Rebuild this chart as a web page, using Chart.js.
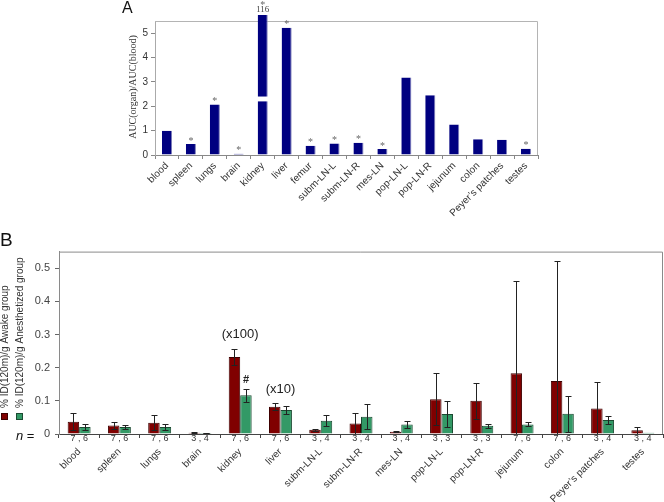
<!DOCTYPE html>
<html>
<head>
<meta charset="utf-8">
<script src="https://cdn.jsdelivr.net/npm/chart.js@4.4.0/dist/chart.umd.min.js"></script>
<style>
  body { margin: 0; background: #fff; }
  #wrap { position: relative; width: 664px; height: 502px; overflow: hidden; background: #fff; }
  canvas { position: absolute; left: 0; }
  #chartA { top: 0; }
  #chartB { top: 240px; }
  .panel { position: absolute; font-family: Arial, "Liberation Sans", sans-serif; color: #111; }
</style>
</head>
<body>
<div id="wrap">
  <canvas id="chartA" width="664" height="235"></canvas>
  <canvas id="chartB" width="664" height="262"></canvas>
  <div class="panel" style="left:122px; top:-1px; font-size:16px;">A</div>
  <div class="panel" style="left:0px; top:229px; font-size:19px;">B</div>
</div>
<script>
// Panel A: AUC(organ)/AUC(blood)
const organsA = ["blood", "spleen", "lungs", "brain", "kidney", "liver", "femur", "subm-LN-L",
  "subm-LN-R", "mes-LN", "pop-LN-L", "pop-LN-R", "jejunum", "colon", "Peyer\u2019s patches", "testes"];
const aucRatio = [1.0, 0.45, 2.07, 0.05, 116, 5.22, 0.38, 0.47, 0.5, 0.25, 3.18, 2.45, 1.25, 0.65, 0.63, 0.26];
const aucStar = [false, true, true, true, true, true, true, true, true, true, false, false, false, false, false, true];
const aucTicks = [0, 1, 2, 3, 4, 5];
const kidneyShownTop = 5.75;      // off-scale bar is drawn up to here
const kidneyBreak = [2.2, 2.4];   // white gap in the off-scale bar

// Panel B: %ID(120m)/g, awake vs anesthetized
const organsB = ["blood", "spleen", "lungs", "brain", "kidney", "liver", "subm-LN-L", "subm-LN-R",
  "mes-LN", "pop-LN-L", "pop-LN-R", "jejunum", "colon", "Peyer\u2019s patches", "testes"];
const awakeMean = [0.037, 0.026, 0.034, 0.004, 0.232, 0.082, 0.013, 0.032, 0.007, 0.105, 0.100, 0.183, 0.160, 0.077, 0.011];
const awakeErr  = [0.025, 0.010, 0.023, 0.001, 0.025, 0.011, 0.003, 0.031, 0.002, 0.078, 0.055, 0.277, 0.363, 0.081, 0.010];
const anesMean  = [0.021, 0.021, 0.021, 0.003, 0.117, 0.072, 0.040, 0.052, 0.029, 0.060, 0.025, 0.029, 0.061, 0.042, 0.004];
const anesErr   = [0.009, 0.007, 0.010, 0.001, 0.020, 0.012, 0.017, 0.038, 0.011, 0.038, 0.006, 0.006, 0.055, 0.013, 0];
const groupN = ["7 , 6", "7 , 6", "7 , 6", "3 , 4", "7 , 6", "7 , 6", "3 , 4", "3 , 4", "3 , 4",
  "3 , 3", "3 , 3", "7 , 6", "7 , 6", "3 , 4", "3 , 4"];
const scaleNote = ["", "", "", "", "(x100)", "(x10)", "", "", "", "", "", "", "", "", ""];
const anesMark  = ["", "", "", "", "#", "", "", "", "", "", "", "", "", "", ""];
const uptakeTicks = [0, 0.1, 0.2, 0.3, 0.4, 0.5];
const seriesB = ["% ID(120m)/g Awake group", "% ID(120m)/g Anesthetized group"];

const RED = "#800000", RED_EDGE = "#3d0000";
const GREEN = "#339966", GREEN_EDGE = "#1b4a31";
const SANS = 'Arial, "Liberation Sans", sans-serif';

function drawRotated(ctx, text, x, y, font, color) {
  ctx.save();
  ctx.translate(x, y);
  ctx.rotate(-Math.PI / 2);
  ctx.font = font;
  ctx.fillStyle = color;
  ctx.textAlign = "center";
  ctx.textBaseline = "middle";
  ctx.fillText(text, 0, 0);
  ctx.restore();
}

function boxOutline(chart, color) {
  const { ctx, chartArea: a } = chart;
  ctx.save();
  ctx.strokeStyle = color;
  ctx.lineWidth = 1;
  ctx.beginPath();
  ctx.moveTo(a.left, a.top + 0.5);
  ctx.lineTo(a.right - 0.5, a.top + 0.5);
  ctx.lineTo(a.right - 0.5, a.bottom);
  ctx.stroke();
  ctx.restore();
}

// ---- Panel A ----
const panelAExtras = {
  id: "panelAExtras",
  beforeDatasetsDraw(chart) {
    boxOutline(chart, "#b4b4b4");
  },
  afterDatasetsDraw(chart) {
    const { ctx, scales: { y } } = chart;
    const meta = chart.getDatasetMeta(0);
    ctx.save();
    ctx.textAlign = "center";
    ctx.textBaseline = "middle";
    meta.data.forEach((bar, i) => {
      let starY = bar.y - 3;
      if (aucRatio[i] > kidneyShownTop) {
        const yHi = y.getPixelForValue(kidneyBreak[1]);
        const yLo = y.getPixelForValue(kidneyBreak[0]);
        ctx.fillStyle = "#fff";
        ctx.fillRect(bar.x - bar.width / 2 - 2, yHi, bar.width + 4, yLo - yHi);
        ctx.fillStyle = "#444";
        ctx.font = '9px "Liberation Serif", serif';
        ctx.fillText(String(aucRatio[i]), bar.x, bar.y - 5);
        starY = bar.y - 10;
      }
      if (aucStar[i]) {
        ctx.fillStyle = "#666";
        ctx.font = '10px "Liberation Serif", serif';
        ctx.fillText("*", bar.x, starY);
      }
    });
    ctx.restore();
  },
  afterDraw(chart) {
    drawRotated(chart.ctx, "AUC(organ)/AUC(blood)", 133, 87, '10px "Liberation Serif", serif', "#333");
  }
};

new Chart(document.getElementById("chartA"), {
  type: "bar",
  data: {
    labels: organsA,
    datasets: [{
      data: aucRatio.map(v => Math.min(v, kidneyShownTop)),
      backgroundColor: "#000080",
      borderColor: "#7a7ab8",
      borderWidth: { left: 0, right: 1, top: 0, bottom: 0 },
      categoryPercentage: 1,
      barPercentage: 0.42,
      clip: false
    }]
  },
  options: {
    responsive: false,
    animation: false,
    layout: { padding: { left: 120, right: 126, top: 21, bottom: 0 } },
    plugins: { legend: { display: false }, tooltip: { enabled: false } },
    scales: {
      x: {
        grid: { display: true, drawOnChartArea: false, tickLength: 4, color: "#888" },
        border: { color: "#888" },
        ticks: { autoSkip: false, minRotation: 45, maxRotation: 45, padding: 1,
          color: "#333", font: { family: SANS, size: 10 } },
        afterFit: s => { s.height = 80; }
      },
      y: {
        min: 0, max: 5.5,
        afterBuildTicks: s => { s.ticks = aucTicks.map(v => ({ value: v })); },
        grid: { display: true, drawOnChartArea: false, tickLength: 4, color: "#888" },
        border: { color: "#aaa" },
        ticks: { padding: 3, color: "#333", font: { family: SANS, size: 10 } },
        afterFit: s => { s.width = 35; }
      }
    }
  },
  plugins: [panelAExtras]
});

// ---- Panel B ----
const panelBExtras = {
  id: "panelBExtras",
  beforeDatasetsDraw(chart) {
    boxOutline(chart, "#8a8a8a");
  },
  afterDatasetsDraw(chart) {
    const { ctx, chartArea: a, scales: { x, y } } = chart;
    const errs = [awakeErr, anesErr];
    const means = [awakeMean, anesMean];
    ctx.save();
    ctx.beginPath();
    ctx.rect(a.left, 0, a.right - a.left, a.bottom);
    ctx.clip();
    ctx.strokeStyle = "#222";
    ctx.lineWidth = 1;
    [0, 1].forEach(d => {
      chart.getDatasetMeta(d).data.forEach((bar, i) => {
        const e = errs[d][i];
        if (!e) return;
        const cx = Math.round(bar.x) + 0.5;
        const top = Math.round(y.getPixelForValue(means[d][i] + e)) + 0.5;
        const bot = Math.round(y.getPixelForValue(means[d][i] - e)) + 0.5;
        ctx.beginPath();
        ctx.moveTo(cx, top); ctx.lineTo(cx, bot);
        ctx.moveTo(cx - 3, top); ctx.lineTo(cx + 3, top);
        ctx.moveTo(cx - 3, bot); ctx.lineTo(cx + 3, bot);
        ctx.stroke();
      });
    });
    ctx.restore();

    // notes above the kidney / liver groups
    ctx.save();
    ctx.textAlign = "center";
    ctx.textBaseline = "middle";
    ctx.fillStyle = "#222";
    const green = chart.getDatasetMeta(1).data;
    organsB.forEach((_, i) => {
      if (scaleNote[i]) {
        const topVal = Math.max(awakeMean[i] + awakeErr[i], anesMean[i] + anesErr[i]);
        ctx.font = "13px " + SANS;
        ctx.fillText(scaleNote[i], x.getPixelForValue(i), y.getPixelForValue(topVal) - 14);
      }
      if (anesMark[i]) {
        ctx.font = "bold 11px " + SANS;
        ctx.fillText(anesMark[i], green[i].x, y.getPixelForValue(anesMean[i] + anesErr[i]) - 9);
      }
    });
    ctx.restore();
  },
  afterDraw(chart) {
    const { ctx, scales: { x } } = chart;
    ctx.save();
    // group sizes under the axis
    ctx.fillStyle = "#333";
    ctx.font = "9px " + SANS;
    ctx.textAlign = "center";
    ctx.textBaseline = "middle";
    groupN.forEach((n, i) => ctx.fillText(n, x.getPixelForValue(i), x.top + 5));
    // "n ="
    ctx.textAlign = "left";
    ctx.fillStyle = "#111";
    ctx.font = "italic 13px " + SANS;
    ctx.fillText("n", 16, x.top + 2);
    const w = ctx.measureText("n").width;
    ctx.font = "13px " + SANS;
    ctx.fillText(" =", 16 + w, x.top + 2);
    // y-axis title with colour keys
    const keys = [[RED, RED_EDGE, 5], [GREEN, GREEN_EDGE, 20]];
    keys.forEach(([fill, edge, cx], k) => {
      ctx.fillStyle = fill;
      ctx.fillRect(cx - 4, 173, 7, 7);
      ctx.strokeStyle = edge;
      ctx.strokeRect(cx - 3.5, 173.5, 6, 6);
      ctx.save();
      ctx.translate(cx, 168);
      ctx.rotate(-Math.PI / 2);
      ctx.font = "10px " + SANS;
      ctx.fillStyle = "#333";
      ctx.textAlign = "left";
      ctx.textBaseline = "middle";
      ctx.fillText(seriesB[k], 0, 0);
      ctx.restore();
    });
    ctx.restore();
  }
};

new Chart(document.getElementById("chartB"), {
  type: "bar",
  data: {
    labels: organsB,
    datasets: [
      { label: seriesB[0], data: awakeMean, backgroundColor: RED, borderColor: RED_EDGE, borderWidth: 1 },
      { label: seriesB[1], data: anesMean, backgroundColor: GREEN, borderColor: GREEN_EDGE, borderWidth: 1 }
    ]
  },
  options: {
    responsive: false,
    animation: false,
    datasets: { bar: { categoryPercentage: 0.57, barPercentage: 1 } },
    layout: { padding: { left: 0, right: 1, top: 3, bottom: 0 } },
    plugins: { legend: { display: false }, tooltip: { enabled: false } },
    scales: {
      x: {
        grid: { display: true, drawOnChartArea: false, tickLength: 4, color: "#444" },
        border: { color: "#444" },
        ticks: { autoSkip: false, minRotation: 45, maxRotation: 45, padding: 8,
          color: "#333", font: { family: SANS, size: 10 } },
        afterFit: s => { s.height = 68; }
      },
      y: {
        min: 0, max: 0.55,
        afterBuildTicks: s => { s.ticks = uptakeTicks.map(v => ({ value: v })); },
        grid: { display: true, drawOnChartArea: false, tickLength: 4, color: "#666" },
        border: { color: "#8a8a8a" },
        ticks: { padding: 5, color: "#444", font: { family: SANS, size: 11 },
          callback: v => (v === 0 ? "0" : Number(v).toFixed(1)) },
        afterFit: s => { s.width = 59; }
      }
    }
  },
  plugins: [panelBExtras]
});
</script>
</body>
</html>
